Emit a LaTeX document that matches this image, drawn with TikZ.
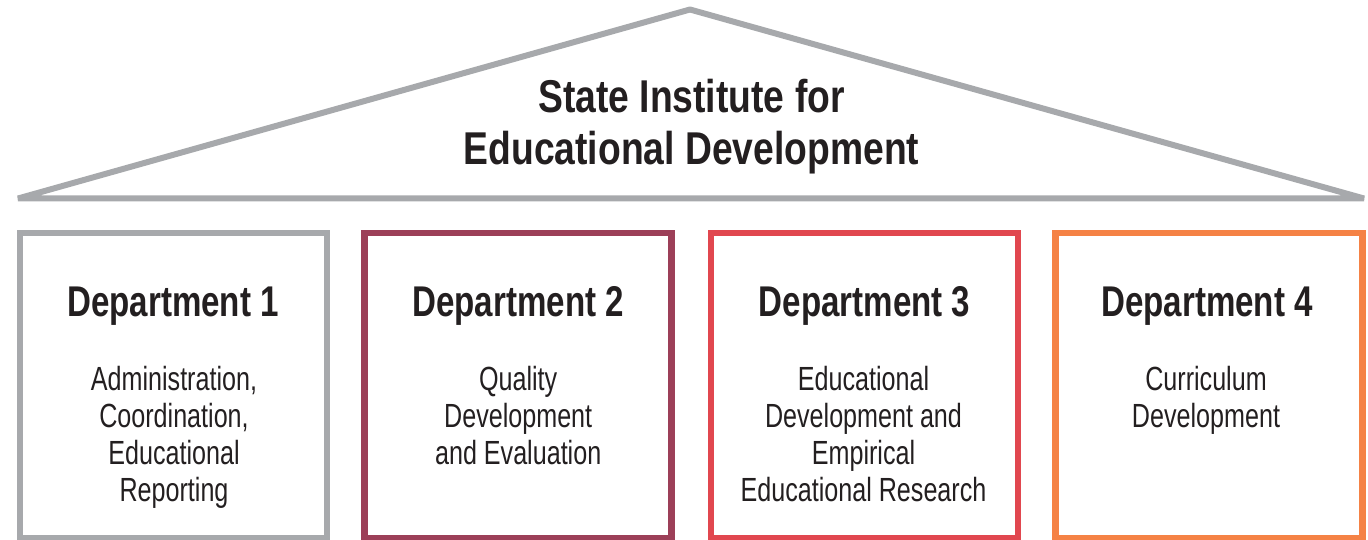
\documentclass[tikz,border=0pt]{standalone}
\usepackage{fontspec}
\newfontfamily\titlef{Liberation Sans}[FakeStretch=0.81]
\newfontfamily\deptf{Liberation Sans}[FakeStretch=0.77]
\newfontfamily\bodyf{Liberation Sans}[FakeStretch=0.75]
\definecolor{roofgray}{HTML}{A7A9AC}
\definecolor{dtwo}{HTML}{9C3F58}
\definecolor{dthree}{HTML}{E1474F}
\definecolor{dfour}{HTML}{F58245}
\definecolor{txt}{HTML}{231F20}
\tikzset{
  roof/.style={draw=roofgray, line width=6pt, line join=bevel},
  deptbox/.style={line width=6.5pt, minimum width=307pt, minimum height=305pt, inner sep=0pt},
  titletext/.style={text=txt, align=center, font=\titlef\bfseries\fontsize{46}{52}\selectfont, inner sep=0pt, anchor=base},
  depttext/.style={text=txt, font=\deptf\bfseries\fontsize{43}{50}\selectfont, inner sep=0pt, anchor=base},
  bodytext/.style={text=txt, align=center, font=\bodyf\fontsize{33.5}{37}\selectfont, inner sep=0pt, anchor=base},
}
\begin{document}
\begin{tikzpicture}[x=1pt,y=-1pt]
\useasboundingbox (0,0) rectangle (1368,540);
% roof
\coordinate (rl) at (18,198.5);
\coordinate (ra) at (690,9.5);
\coordinate (rr) at (1364,198.5);
\draw[roof] (rl) -- (ra) -- (rr) -- cycle;
\node[titletext] (title) at (691.5,165) {State Institute for\\Educational Development};
% boxes
\node[deptbox, draw=roofgray] (b1) at (173.5,385.6) {};
\node[deptbox, draw=dtwo] (b2) at (518.2,385.6) {};
\node[deptbox, draw=dthree] (b3) at (864.5,385.6) {};
\node[deptbox, draw=dfour] (b4) at (1209,385.6) {};
% titles
\node[depttext] (t1) at (173,316) {Department 1};
\node[depttext] (t2) at (518.2,316) {Department 2};
\node[depttext] (t3) at (864.5,316) {Department 3};
\node[depttext] (t4) at (1207,316) {Department 4};
% bodies
\node[bodytext] (x1) at (174,501) {Administration,\\Coordination,\\Educational\\Reporting};
\node[bodytext] (x2) at (518.2,464) {Quality\\Development\\and Evaluation};
\node[bodytext] (x3) at (863.5,501) {Educational\\Development and\\Empirical\\Educational Research};
\node[bodytext] (x4) at (1206,427) {Curriculum\\Development};
\end{tikzpicture}
\end{document}
